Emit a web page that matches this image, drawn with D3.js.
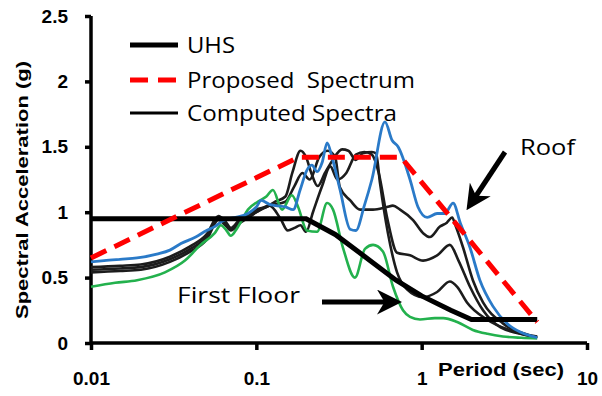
<!DOCTYPE html>
<html>
<head>
<meta charset="utf-8">
<script src="https://cdn.jsdelivr.net/npm/d3@7"></script>
<style>
  body { margin: 0; background: #fff; }
  svg { display: block; }
  .tick text { font-family: "Liberation Sans", Arial, sans-serif; font-weight: bold; font-size: 19px; fill: #000; }
</style>
</head>
<body>
<svg id="plot" width="602" height="396"></svg>
<script>
const width = 602;
const height = 396;

// period (s), spectral acceleration (g)
const uhs = [[0.01, 0.95], [0.2, 0.95], [0.3, 0.83], [0.5, 0.62], [0.7, 0.48], [1, 0.36], [1.5, 0.25], [2, 0.18], [5, 0.18]];

const proposed = [[0.01, 0.65], [0.18, 1.42], [0.75, 1.42], [5, 0.16]];

const roof = [[0.01, 0.62], [0.012, 0.63], [0.015, 0.64], [0.019, 0.65], [0.025, 0.68], [0.03, 0.71], [0.035, 0.76],
  [0.043, 0.81], [0.05, 0.86], [0.056, 0.89], [0.062, 0.93], [0.068, 0.95], [0.075, 0.96], [0.089, 0.99], [0.1, 1.04],
  [0.107, 1.09], [0.12, 1.06], [0.131, 1.05], [0.15, 1.04], [0.167, 1.02], [0.184, 1.17], [0.202, 1.32], [0.217, 1.36],
  [0.233, 1.31], [0.25, 1.38], [0.268, 1.53], [0.287, 1.42], [0.321, 1.17], [0.369, 0.87], [0.4, 0.86], [0.45, 1.05],
  [0.5, 1.25], [0.6, 1.69], [0.662, 1.55], [0.72, 1.5], [0.85, 1.25], [0.95, 1.04], [1.08, 0.96], [1.24, 0.99],
  [1.38, 0.99], [1.55, 1.07], [1.71, 0.92], [1.96, 0.73], [2.25, 0.48], [2.7, 0.28], [3.28, 0.15], [4, 0.08],
  [4.7, 0.05], [5, 0.04]];

const firstFloor = [[0.01, 0.43], [0.014, 0.46], [0.019, 0.48], [0.028, 0.54], [0.037, 0.63], [0.046, 0.75],
  [0.056, 0.84], [0.061, 0.9], [0.066, 0.86], [0.07, 0.82], [0.075, 0.86], [0.081, 0.93], [0.089, 1.02], [0.102, 1.08],
  [0.115, 1.12], [0.126, 1.17], [0.143, 1.02], [0.164, 1.13], [0.179, 1.04], [0.202, 0.86], [0.233, 0.85],
  [0.268, 1.07], [0.291, 1.02], [0.334, 0.73], [0.395, 0.5], [0.454, 0.72], [0.508, 0.75], [0.583, 0.7], [0.671, 0.43],
  [0.771, 0.25], [0.85, 0.2], [0.977, 0.18], [1.2, 0.19], [1.35, 0.19], [1.64, 0.16], [2.04, 0.1], [2.5, 0.07],
  [3.1, 0.05], [4, 0.04], [5, 0.035]];

const floorA = [[0.01, 0.58], [0.015, 0.59], [0.02, 0.6], [0.03, 0.66], [0.04, 0.74], [0.05, 0.83], [0.059, 0.97],
  [0.065, 0.93], [0.07, 0.88], [0.08, 0.95], [0.09, 0.98], [0.1, 1.02], [0.115, 1.04], [0.13, 1.08], [0.15, 1.12],
  [0.165, 1.3], [0.185, 1.47], [0.2, 1.42], [0.215, 1.3], [0.235, 1.2], [0.26, 1.3], [0.29, 1.4], [0.33, 1.48],
  [0.36, 1.47], [0.4, 1.4], [0.44, 1.45], [0.5, 1.46], [0.53, 1.45], [0.56, 1.22], [0.625, 0.84], [0.71, 0.54],
  [0.815, 0.41], [1.02, 0.35], [1.24, 0.39], [1.48, 0.47], [1.64, 0.43], [1.88, 0.31], [2.48, 0.18], [3.77, 0.08],
  [5, 0.04]];

const floorB = [[0.01, 0.56], [0.015, 0.57], [0.02, 0.58], [0.03, 0.64], [0.04, 0.72], [0.05, 0.81], [0.059, 0.95],
  [0.065, 0.92], [0.07, 0.87], [0.08, 0.94], [0.09, 0.97], [0.1, 1.0], [0.12, 1.05], [0.15, 1.08], [0.17, 1.2],
  [0.19, 1.3], [0.21, 1.25], [0.24, 1.42], [0.27, 1.47], [0.3, 1.42], [0.32, 1.19], [0.37, 1.09], [0.424, 1.02],
  [0.508, 1.02], [0.617, 1.04], [0.67, 1.05], [0.74, 1.02], [0.887, 0.94], [1.02, 0.84], [1.12, 0.81], [1.29, 0.89],
  [1.42, 0.92], [1.53, 0.96], [1.6, 0.9], [1.78, 0.73], [2.04, 0.48], [2.35, 0.31], [3.1, 0.15], [4.5, 0.06], [5, 0.05]];

const floorC = [[0.01, 0.54], [0.015, 0.55], [0.02, 0.56], [0.03, 0.62], [0.04, 0.7], [0.05, 0.79], [0.059, 0.94],
  [0.065, 0.9], [0.07, 0.86], [0.08, 0.92], [0.09, 0.96], [0.1, 1.0], [0.12, 1.05], [0.14, 0.95], [0.155, 0.86],
  [0.17, 0.88], [0.185, 0.9], [0.2, 0.85], [0.22, 1.0], [0.25, 1.2], [0.28, 1.35], [0.31, 1.25], [0.35, 1.3],
  [0.4, 1.44], [0.45, 1.46], [0.5, 1.44], [0.55, 1.3], [0.62, 0.95], [0.71, 0.69], [0.85, 0.67], [1.02, 0.63],
  [1.24, 0.67], [1.48, 0.75], [1.67, 0.63], [1.96, 0.43], [2.35, 0.25], [3, 0.12], [4.7, 0.05], [5, 0.04]];

const yTicks = [0, 0.5, 1, 1.5, 2, 2.5];
const xTicks = [0.01, 0.1, 1, 10];
const xTickLabels = ["0.01", "0.1", "1", "10"];

const legendItems = ["UHS", "Proposed  Spectrum", "Computed Spectra"];

const svg = d3.select("#plot");

const x = d3.scaleLog().domain([0.01, 10]).range([91, 587]);
const y = d3.scaleLinear().domain([0, 2.5]).range([343, 16]);

const line = d3.line()
  .x(d => x(d[0]))
  .y(d => y(d[1]))
  .curve(d3.curveMonotoneX);

// axes
const yAxis = svg.append("g")
  .attr("transform", "translate(91,0)")
  .call(d3.axisLeft(y).tickValues(yTicks).tickSize(6).tickPadding(17).tickFormat(d => String(d)));

const xAxis = svg.append("g")
  .attr("transform", "translate(0,343)")
  .call(d3.axisBottom(x).tickValues(xTicks).tickSize(7).tickPadding(22).tickFormat((d, i) => xTickLabels[i]));

[yAxis, xAxis].forEach(g => {
  g.select(".domain").attr("stroke", "#000").attr("stroke-width", 3.5);
  g.selectAll(".tick line").attr("stroke", "#000").attr("stroke-width", 3.5);
});
yAxis.select(".domain").attr("d", "M0,16V343");
xAxis.select(".domain").attr("d", "M91,0H587");

// computed spectra
const computed = [
  { data: floorC, color: "#1c1c1c", w: 2.6 },
  { data: floorB, color: "#1c1c1c", w: 2.6 },
  { data: floorA, color: "#1c1c1c", w: 2.6 },
  { data: firstFloor, color: "#23b14d", w: 2.6 },
  { data: roof, color: "#2a7ac8", w: 2.8 }
];

svg.selectAll("path.comp")
  .data(computed)
  .enter()
  .append("path")
  .attr("class", "comp")
  .attr("d", d => line(d.data))
  .attr("fill", "none")
  .attr("stroke", d => d.color)
  .attr("stroke-width", d => d.w)
  .attr("stroke-linejoin", "round");

svg.append("path")
  .attr("d", d3.line().x(d => x(d[0])).y(d => y(d[1]))(uhs))
  .attr("fill", "none")
  .attr("stroke", "#000")
  .attr("stroke-width", 5);

svg.append("path")
  .attr("d", d3.line().x(d => x(d[0])).y(d => y(d[1]))(proposed))
  .attr("fill", "none")
  .attr("stroke", "#ff0000")
  .attr("stroke-width", 5)
  .attr("stroke-dasharray", "17,9");

// y axis title
svg.append("text")
  .attr("transform", "translate(28,190) rotate(-90)")
  .attr("text-anchor", "middle")
  .attr("font-family", "Liberation Sans, Arial, sans-serif")
  .attr("font-weight", "bold")
  .attr("font-size", 17)
  .attr("textLength", 258)
  .attr("lengthAdjust", "spacingAndGlyphs")
  .text("Spectral Acceleration (g)");

svg.append("text")
  .attr("x", 438)
  .attr("y", 376)
  .attr("font-family", "Liberation Sans, Arial, sans-serif")
  .attr("font-weight", "bold")
  .attr("font-size", 18)
  .attr("textLength", 126)
  .attr("lengthAdjust", "spacingAndGlyphs")
  .text("Period (sec)");

// legend
const legY = [45, 80, 113];
const legTextLen = [48, 228, 210];
const leg = svg.append("g");
leg.append("line").attr("x1", 130).attr("x2", 178).attr("y1", legY[0]).attr("y2", legY[0])
  .attr("stroke", "#000").attr("stroke-width", 5);
leg.append("line").attr("x1", 130).attr("x2", 178).attr("y1", legY[1]).attr("y2", legY[1])
  .attr("stroke", "#ff0000").attr("stroke-width", 5).attr("stroke-dasharray", "18,10");
leg.append("line").attr("x1", 130).attr("x2", 178).attr("y1", legY[2]).attr("y2", legY[2])
  .attr("stroke", "#000").attr("stroke-width", 3);
leg.selectAll("text")
  .data(legendItems)
  .enter()
  .append("text")
  .attr("x", 187)
  .attr("y", (d, i) => legY[i] + 8)
  .attr("font-family", "Open Sans, sans-serif")
  .attr("font-size", 21)
  .attr("textLength", (d, i) => legTextLen[i])
  .attr("lengthAdjust", "spacingAndGlyphs")
  .attr("xml:space", "preserve")
  .style("white-space", "pre")
  .text(d => d);

// annotations
const ann = svg.append("g").attr("font-family", "Open Sans, sans-serif").attr("font-size", 22);
ann.append("text").attr("x", 520).attr("y", 155).attr("textLength", 55).attr("lengthAdjust", "spacingAndGlyphs").text("Roof");
ann.append("text").attr("x", 177).attr("y", 303).attr("textLength", 123).attr("lengthAdjust", "spacingAndGlyphs").text("First Floor");

svg.append("defs").append("marker")
  .attr("id", "head")
  .attr("viewBox", "0 0 10 10")
  .attr("refX", 6)
  .attr("refY", 5)
  .attr("markerWidth", 5)
  .attr("markerHeight", 5)
  .attr("markerUnits", "strokeWidth")
  .attr("orient", "auto")
  .append("path")
  .attr("d", "M0,0L10,5L0,10L3,5Z")
  .attr("fill", "#000");

svg.append("line").attr("x1", 505).attr("y1", 152).attr("x2", 472).attr("y2", 202)
  .attr("stroke", "#000").attr("stroke-width", 5).attr("marker-end", "url(#head)");
svg.append("line").attr("x1", 322).attr("y1", 302).attr("x2", 392).attr("y2", 302)
  .attr("stroke", "#000").attr("stroke-width", 5).attr("marker-end", "url(#head)");
</script>
</body>
</html>
